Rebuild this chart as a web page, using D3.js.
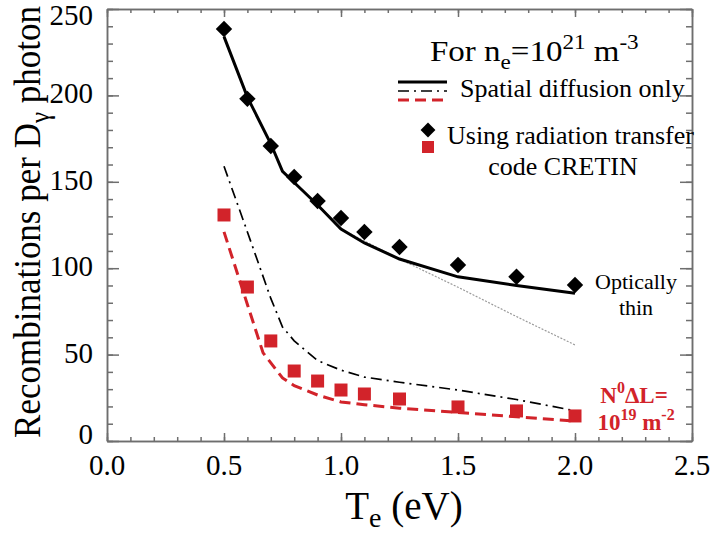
<!DOCTYPE html>
<html>
<head>
<meta charset="utf-8">
<script src="https://cdn.jsdelivr.net/npm/d3@7"></script>
<style>
  body { margin: 0; background: #fff; }
  text { font-family: "Liberation Serif", "Times New Roman", serif; fill: #000; }
</style>
</head>
<body>
<div id="chart"></div>
<script>
// ---- data ----
const xTicks = [0, 0.5, 1.0, 1.5, 2.0, 2.5];
const yTicks = [0, 50, 100, 150, 200, 250];

// CRETIN radiation transfer results
const cretinTe = [0.5, 0.6, 0.7, 0.8, 0.9, 1.0, 1.1, 1.25, 1.5, 1.75, 2.0];
const cretinThin = [238.4, 198, 170.7, 152.8, 138.9, 129, 121, 112.3, 101.9, 95, 90.3];
const cretinThick = [130.8, 89.1, 57.9, 40.5, 34.7, 29.5, 27.2, 24.3, 19.7, 17.4, 14.5];

// spatial diffusion only
const diffThinTe = [0.5, 0.6, 0.7, 0.75, 0.8, 0.9, 1.0, 1.1, 1.25, 1.5, 1.75, 2.0];
const diffThin = [234, 199, 172, 156, 149.6, 136.6, 122.7, 114.6, 105.3, 95, 90, 85.5];
const diffMidTe = [0.5, 0.6, 0.7, 0.75, 0.8, 0.9, 1.0, 1.1, 1.25, 1.5, 1.75, 2.0];
const diffMid = [159, 121, 82.5, 66, 58, 46.5, 41, 37, 34, 29.5, 24, 17.5];
const diffThickTe = [0.5, 0.6, 0.667, 0.75, 0.8, 0.9, 1.0, 1.1, 1.25, 1.5, 1.75, 2.0];
const diffThick = [121, 79, 51, 36.5, 32, 26.6, 22.6, 21, 19, 16.5, 14, 11.5];

// optically thin extrapolation (gray dotted)
const thinExtTe = [1.0, 1.25, 1.5, 1.75, 2.0];
const thinExt = [122.7, 105.3, 89, 72, 55.6];

const red = "#d2232a";
const axisGray = "#6e6e6e";

const width = 712, height = 536;
const mLeft = 107, mRight = 692, mTop = 9, mBottom = 441;

const svg = d3.select("#chart").append("svg")
  .attr("width", width).attr("height", height);

svg.append("rect").attr("width", width).attr("height", height).attr("fill", "#fff");

const x = d3.scaleLinear().domain([0, 2.5]).range([mLeft, mRight]);
const y = d3.scaleLinear().domain([0, 250]).range([mBottom, mTop]);

// ---- axes (ticks pointing inward) ----
function styleAxis(g) {
  g.selectAll("path, line").attr("stroke", axisGray).attr("stroke-width", 1.5);
  g.selectAll("text").remove();
}

svg.append("g").attr("transform", `translate(0,${mBottom})`)
  .call(d3.axisBottom(x).ticks(25).tickSize(-4).tickSizeOuter(0).tickFormat(""))
  .call(styleAxis);
svg.append("g").attr("transform", `translate(0,${mBottom})`)
  .call(d3.axisBottom(x).tickValues(xTicks).tickSize(-8).tickSizeOuter(0).tickFormat(""))
  .call(styleAxis);
svg.append("g").attr("transform", `translate(0,${mTop})`)
  .call(d3.axisTop(x).ticks(25).tickSize(-4).tickSizeOuter(0).tickFormat(""))
  .call(styleAxis);
svg.append("g").attr("transform", `translate(0,${mTop})`)
  .call(d3.axisTop(x).tickValues(xTicks).tickSize(-8).tickSizeOuter(0).tickFormat(""))
  .call(styleAxis);
svg.append("g").attr("transform", `translate(${mLeft},0)`)
  .call(d3.axisLeft(y).ticks(25).tickSize(-6).tickSizeOuter(0).tickFormat(""))
  .call(styleAxis);
svg.append("g").attr("transform", `translate(${mLeft},0)`)
  .call(d3.axisLeft(y).tickValues(yTicks).tickSize(-12).tickSizeOuter(0).tickFormat(""))
  .call(styleAxis);
svg.append("g").attr("transform", `translate(${mRight},0)`)
  .call(d3.axisRight(y).ticks(25).tickSize(-6).tickSizeOuter(0).tickFormat(""))
  .call(styleAxis);
svg.append("g").attr("transform", `translate(${mRight},0)`)
  .call(d3.axisRight(y).tickValues(yTicks).tickSize(-12).tickSizeOuter(0).tickFormat(""))
  .call(styleAxis);

// tick labels
svg.append("g").selectAll("text").data(xTicks).join("text")
  .attr("x", d => x(d)).attr("y", mBottom + 34)
  .attr("text-anchor", "middle").attr("font-size", 29)
  .text(d => d3.format(".1f")(d));
svg.append("g").selectAll("text").data(yTicks).join("text")
  .attr("x", mLeft - 14).attr("y", d => Math.min(Math.max(y(d) + 8, 25), 444))
  .attr("text-anchor", "end").attr("font-size", 29)
  .text(d => d);

// axis titles
const xt = svg.append("text").attr("x", 404).attr("y", 519)
  .attr("text-anchor", "middle").attr("font-size", 39);
xt.append("tspan").text("T");
xt.append("tspan").attr("font-size", 28).attr("dy", 8).text("e");
xt.append("tspan").attr("dy", -8).text(" (eV)");

const yt = svg.append("text").attr("transform", "translate(40,222) rotate(-90) scale(1,1.1)")
  .attr("text-anchor", "middle").attr("font-size", 35);
yt.append("tspan").text("Recombinations per D");
yt.append("tspan").attr("font-size", 25).attr("dy", 8).text("γ");
yt.append("tspan").attr("dy", -8).text(" photon");

// ---- lines ----
const line = d3.line().x(d => x(d[0])).y(d => y(d[1]));

svg.append("path").datum(d3.zip(thinExtTe, thinExt))
  .attr("d", line).attr("fill", "none")
  .attr("stroke", "#9a9a9a").attr("stroke-width", 1.2).attr("stroke-dasharray", "2,1.5");
svg.append("path").datum(d3.zip(diffThinTe, diffThin))
  .attr("d", line).attr("fill", "none")
  .attr("stroke", "#000").attr("stroke-width", 3);
svg.append("path").datum(d3.zip(diffMidTe, diffMid))
  .attr("d", line).attr("fill", "none")
  .attr("stroke", "#000").attr("stroke-width", 1.7).attr("stroke-dasharray", "11,5,2,5");
svg.append("path").datum(d3.zip(diffThickTe, diffThick))
  .attr("d", line).attr("fill", "none")
  .attr("stroke", red).attr("stroke-width", 3).attr("stroke-dasharray", "11,6");

// ---- markers ----
const diamond = d3.symbol().type(d3.symbolSquare).size(135);
svg.append("g").selectAll("path").data(d3.zip(cretinTe, cretinThin)).join("path")
  .attr("d", diamond)
  .attr("transform", d => `translate(${x(d[0])},${y(d[1])}) rotate(45)`)
  .attr("fill", "#000");
svg.append("g").selectAll("rect").data(d3.zip(cretinTe, cretinThick)).join("rect")
  .attr("x", d => x(d[0]) - 6.5).attr("y", d => y(d[1]) - 6.5)
  .attr("width", 13).attr("height", 13)
  .attr("fill", red);

// ---- legend ----
const t1 = svg.append("text").attr("transform", "translate(430,61) scale(1.1,1)").attr("font-size", 30);
t1.append("tspan").text("For n");
t1.append("tspan").attr("font-size", 21).attr("dy", 8).text("e");
t1.append("tspan").attr("dy", -8).text("=10");
t1.append("tspan").attr("font-size", 21).attr("dy", -12).text("21");
t1.append("tspan").attr("dy", 12).text(" m");
t1.append("tspan").attr("font-size", 21).attr("dy", -12).text("-3");

svg.append("line").attr("x1", 398).attr("x2", 447).attr("y1", 82).attr("y2", 82)
  .attr("stroke", "#000").attr("stroke-width", 3);
svg.append("line").attr("x1", 398).attr("x2", 447).attr("y1", 91).attr("y2", 91)
  .attr("stroke", "#000").attr("stroke-width", 1.7).attr("stroke-dasharray", "11,5,2,5");
svg.append("line").attr("x1", 398).attr("x2", 447).attr("y1", 100).attr("y2", 100)
  .attr("stroke", red).attr("stroke-width", 3).attr("stroke-dasharray", "11,6");
svg.append("text").attr("x", 460).attr("y", 97).attr("font-size", 26).text("Spatial diffusion only");

svg.append("path").attr("d", d3.symbol().type(d3.symbolSquare).size(110))
  .attr("transform", "translate(428,130) rotate(45)").attr("fill", "#000");
svg.append("rect").attr("x", 422).attr("y", 141).attr("width", 12).attr("height", 12).attr("fill", red);
svg.append("text").attr("x", 447).attr("y", 144).attr("font-size", 26).text("Using radiation transfer");
svg.append("text").attr("x", 563).attr("y", 175).attr("text-anchor", "middle")
  .attr("font-size", 26).text("code CRETIN");

// annotations
svg.append("text").attr("x", 636).attr("y", 289).attr("text-anchor", "middle")
  .attr("font-size", 22).text("Optically");
svg.append("text").attr("x", 636).attr("y", 315).attr("text-anchor", "middle")
  .attr("font-size", 22).text("thin");

const n1 = svg.append("text").attr("x", 634).attr("y", 403).attr("text-anchor", "middle")
  .attr("font-size", 23).attr("font-weight", "bold").style("fill", red);
n1.append("tspan").text("N");
n1.append("tspan").attr("font-size", 16).attr("dy", -10).text("0");
n1.append("tspan").attr("dy", 10).text("ΔL=");
const n2 = svg.append("text").attr("x", 636).attr("y", 430).attr("text-anchor", "middle")
  .attr("font-size", 23).attr("font-weight", "bold").style("fill", red);
n2.append("tspan").text("10");
n2.append("tspan").attr("font-size", 16).attr("dy", -10).text("19");
n2.append("tspan").attr("dy", 10).text(" m");
n2.append("tspan").attr("font-size", 16).attr("dy", -10).text("-2");
</script>
</body>
</html>
